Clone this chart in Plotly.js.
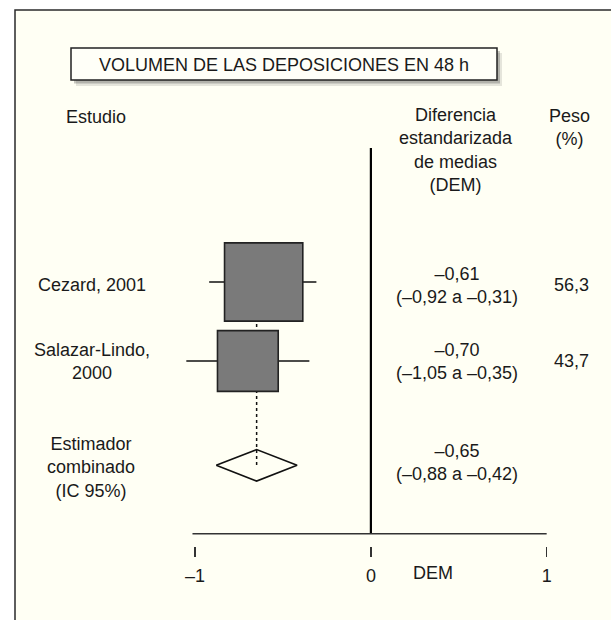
<!DOCTYPE html>
<html>
<head>
<meta charset="utf-8">
<script src="https://cdn.plot.ly/plotly-3.0.1.min.js"></script>
<style>
  html, body { margin: 0; padding: 0; background: #ffffff; }
  #chart { width: 611px; height: 620px; }
</style>
</head>
<body>
<div id="chart"></div>
<script>
// ---------------- data ----------------
const studies = ["Cezard, 2001", "Salazar-Lindo,<br>2000"];
const studyEst = [-0.61, -0.70];
const studyLow = [-0.92, -1.05];
const studyHigh = [-0.31, -0.35];
const studyWeight = [56.3, 43.7];

const pooledLabel = "Estimador<br>combinado<br>(IC 95%)";
const pooledEst = -0.65;
const pooledLow = -0.88;
const pooledHigh = -0.42;

const tickVals = [-1, 0, 1];
const tickText = ["–1", "0", "1"];

const titleText = "VOLUMEN DE LAS DEPOSICIONES EN 48 h";
const headStudy = "Estudio";
const headEffect = "Diferencia<br>estandarizada<br>de medias<br>(DEM)";
const headWeight = "Peso<br>(%)";
const axisLabel = "DEM";

// ---------------- layout constants ----------------
const W = 611, H = 620;
const studyRows = [1, 2];
const pooledRow = 3.32;
const px = v => v / W;
const py = v => 1 - v / H;
const FONT = "Liberation Sans, Arial, Helvetica, sans-serif";
const TXT = "#1a1a1a";
const BG = "#fffff4";
const boxScale = 1.39;
const diamondHalf = 0.2;

const fmt = v => (v < 0 ? "–" : "") + Math.abs(v).toFixed(2).replace(".", ",");
const fmtW = v => v.toFixed(1).replace(".", ",");

// ---------------- traces ----------------
const dotted = {
  x: [pooledEst, pooledEst],
  y: [studyRows[0], pooledRow],
  mode: "lines",
  line: { color: "#111", width: 1.5, dash: "dot" },
  hoverinfo: "skip", showlegend: false
};

const wx = [], wy = [];
studyEst.forEach((e, i) => {
  wx.push(studyLow[i], studyHigh[i], null);
  wy.push(studyRows[i], studyRows[i], null);
});
const whiskers = {
  x: wx, y: wy, mode: "lines",
  line: { color: "#111", width: 1.6 },
  hoverinfo: "skip", showlegend: false
};

const boxes = {
  x: studyEst, y: studyRows, mode: "markers",
  marker: {
    symbol: "square",
    size: studyWeight.map(w => w * boxScale),
    color: "#7a7a7a",
    opacity: 1,
    line: { color: "#222", width: 1.6 }
  },
  hoverinfo: "skip", showlegend: false
};

const diamond = {
  x: [pooledLow, pooledEst, pooledHigh, pooledEst, pooledLow],
  y: [pooledRow, pooledRow - diamondHalf, pooledRow, pooledRow + diamondHalf, pooledRow],
  mode: "lines",
  line: { color: "#111", width: 1.6 },
  hoverinfo: "skip", showlegend: false
};

// ---------------- annotations ----------------
const ann = [];
const addText = (text, x, y, opts = {}) => ann.push(Object.assign({
  text, x, y, xref: "paper", yref: "paper", showarrow: false,
  xanchor: "center", yanchor: "middle", align: "center",
  font: { family: FONT, size: 18, color: TXT }
}, opts));

addText(titleText, px(284), py(65));
addText(headStudy, px(64), py(117), { xanchor: "left" });
addText(headEffect, px(456), py(150));
addText(headWeight, px(569), py(128));
addText(axisLabel, px(433), py(573));

studies.forEach((s, i) => {
  addText(s, px(92), studyRows[i], { yref: "y", yshift: i === 0 ? -3 : 0 });
  addText(fmt(studyEst[i]) + "<br>(" + fmt(studyLow[i]) + " a " + fmt(studyHigh[i]) + ")",
    px(457), studyRows[i], { yref: "y", yshift: i === 0 ? -3 : 0 });
  addText(fmtW(studyWeight[i]), px(571), studyRows[i], { yref: "y", yshift: i === 0 ? -3 : 0 });
});
addText(pooledLabel, px(91), pooledRow, { yref: "y", yshift: -2 });
addText(fmt(pooledEst) + "<br>(" + fmt(pooledLow) + " a " + fmt(pooledHigh) + ")",
  px(457), pooledRow, { yref: "y", yshift: 3 });

// ---------------- shapes ----------------
const shapes = [
  { type: "rect", xref: "paper", yref: "paper", x0: px(15), x1: 1.02, y0: -0.02, y1: py(10),
    fillcolor: BG, line: { color: "#2a2a2a", width: 1.5 }, layer: "below" },
  { type: "rect", xref: "paper", yref: "paper", x0: px(76), x1: px(502), y0: py(86), y1: py(53),
    fillcolor: "rgba(0,0,0,0.10)", line: { width: 0 }, layer: "below" },
  { type: "rect", xref: "paper", yref: "paper", x0: px(74), x1: px(500), y0: py(83.5), y1: py(51),
    fillcolor: "rgba(0,0,0,0.22)", line: { width: 0 }, layer: "below" },
  { type: "rect", xref: "paper", yref: "paper", x0: px(71), x1: px(497), y0: py(80), y1: py(48),
    fillcolor: "#fffff8", line: { color: "#222", width: 1.5 }, layer: "below" },
  { type: "line", xref: "x", yref: "paper", x0: 0, x1: 0, y0: py(533.7), y1: py(148),
    line: { color: "#000", width: 2.2 } },
  { type: "line", xref: "x", yref: "paper", x0: Math.min(...tickVals) - 0.015, x1: Math.max(...tickVals),
    y0: py(533.7), y1: py(533.7), line: { color: "#333", width: 1.6 } }
];

const layout = {
  width: W, height: H,
  margin: { l: 0, r: 0, t: 0, b: 0, pad: 0 },
  paper_bgcolor: "#ffffff",
  plot_bgcolor: "rgba(0,0,0,0)",
  showlegend: false,
  xaxis: {
    range: [-2.110, 1.366], domain: [0, 1],
    showgrid: false, zeroline: false, showline: false,
    tickvals: tickVals, ticktext: tickText,
    ticks: "outside", ticklen: 10, tickwidth: 1.5, tickcolor: "#333",
    anchor: "free", position: py(546), side: "bottom",
    tickfont: { family: FONT, size: 18, color: TXT },
    ticklabelstandoff: 3,
    fixedrange: true
  },
  yaxis: {
    range: [5.278, -2.570], domain: [0, 1],
    visible: false, fixedrange: true
  },
  shapes: shapes,
  annotations: ann,
  font: { family: FONT, color: TXT }
};

Plotly.newPlot("chart", [dotted, whiskers, boxes, diamond], layout, { displayModeBar: false, staticPlot: true });
</script>
</body>
</html>
